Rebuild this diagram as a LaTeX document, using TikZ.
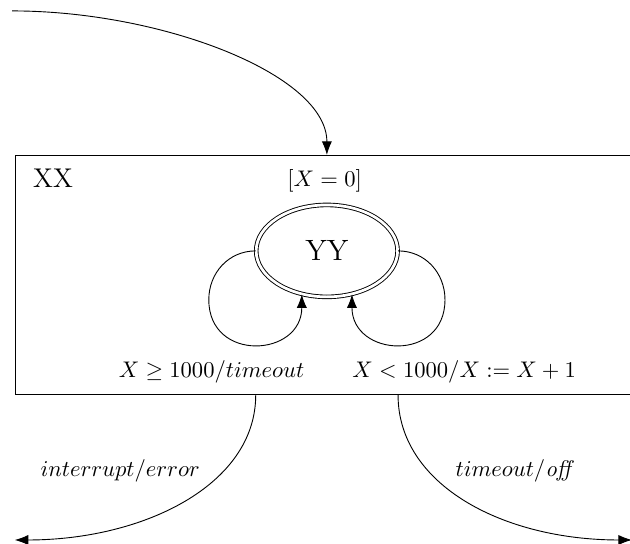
\documentclass[tikz,border=0pt]{standalone}
\usepackage{amsmath, amssymb}
\usetikzlibrary{shapes.geometric, arrows.meta}
\tikzset{
  superstate/.style={draw, rectangle, anchor=north west, minimum width=10.5cm, minimum height=3.72cm, inner sep=0pt},
  simplestate/.style={draw, ellipse, double, double distance=1.2pt, minimum width=2.2cm, minimum height=1.43cm, inner sep=0pt},
  trans/.style={-{Latex[length=6pt, width=4.5pt]}}
}

\begin{document}
\begin{tikzpicture}
      \useasboundingbox (0,0) rectangle (9.80,8.46);

      % Superstate and the state inside it
      \node[superstate] (xx) at (0.23,6.05) {};
      \node[anchor=base west, inner sep=0pt] (xxname) at (0.51,5.55) {\large XX};
      \node (guard) at (5.05,5.645) {$[X = 0]$};
      \node[simplestate] (yy) at (5.085,4.557) {\fontsize{13}{15}\selectfont YY};

      % Entry transition
      \coordinate (entry) at (0.19,8.29);
      \draw[trans] (entry) to[out=0, in=90, out distance=2.33cm, in distance=1.25cm] (yy |- xx.north);

      % Self loops
      \draw[trans] (yy.west) to[out=180, in=90, distance=0.42cm] ++(-0.73,-0.76)
        to[out=270, in=270, distance=0.98cm] (yy.240);
      \draw[trans] (yy.east) to[out=0, in=90, distance=0.42cm] ++(0.73,-0.76)
        to[out=270, in=270, distance=0.98cm] (yy.300);
      \node[anchor=base] (stoplbl) at (3.29,2.58) {$X \geq 1000/timeout$};
      \node[anchor=base] (countlbl) at (7.22,2.58) {$X < 1000/X := X + 1$};

      % Exit transitions
      \coordinate (errend) at (0.23,0.06);
      \coordinate (offend) at (9.83,0.06);
      \draw[trans] (yy.west |- xx.south) to[out=270, in=0, out distance=1.4cm, in distance=2cm] (errend);
      \draw[trans] (yy.east |- xx.south) to[out=270, in=180, out distance=1.4cm, in distance=2cm] (offend);
      \node[anchor=base] (errlbl) at (1.87,1.04) {$interrupt/error$};
      \node[anchor=base] (offlbl) at (8.02,1.04) {$timeout/\mathit{off}$};
    \end{tikzpicture}
\end{document}
